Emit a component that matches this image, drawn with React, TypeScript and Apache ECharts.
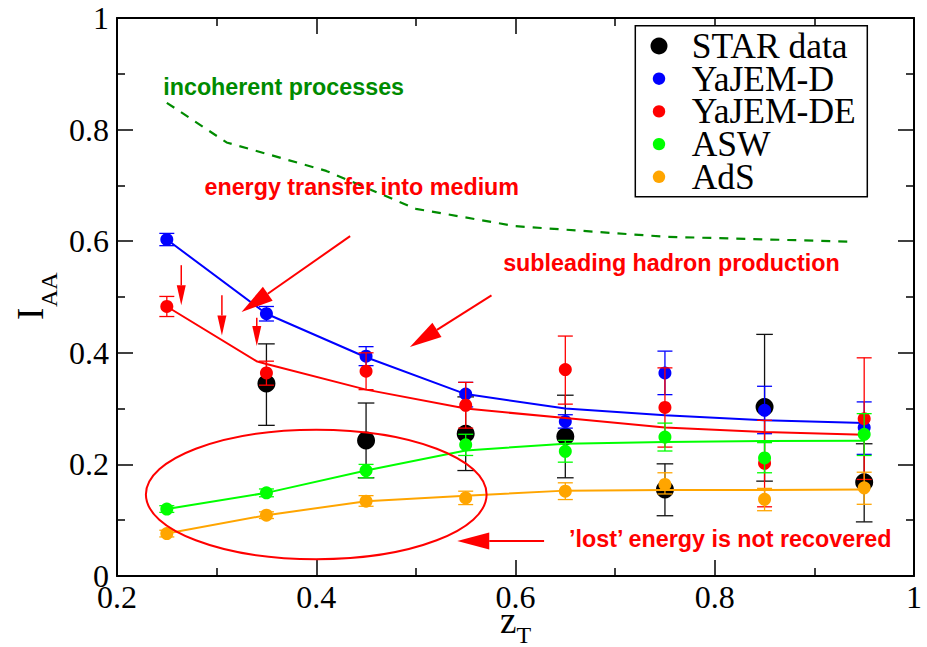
import React, { useEffect, useRef } from 'react';
import * as echarts from 'echarts';

// ---------- data ----------
const zT = [0.25, 0.35, 0.45, 0.55, 0.65, 0.75, 0.85, 0.95];

const starZ = [0.35, 0.45, 0.55, 0.65, 0.75, 0.85, 0.95];
const starI = [0.345, 0.243, 0.255, 0.250, 0.155, 0.303, 0.168];
const starLo = [0.270, 0.176, 0.189, 0.176, 0.108, 0.170, 0.097];
const starHi = [0.416, 0.310, 0.321, 0.324, 0.201, 0.433, 0.237];

const yajemDI = [0.603, 0.470, 0.394, 0.326, 0.277, 0.364, 0.297, 0.266];
const yajemDLo = [0.592, 0.457, 0.377, 0.303, 0.265, 0.325, 0.255, 0.218];
const yajemDHi = [0.614, 0.483, 0.411, 0.347, 0.289, 0.403, 0.340, 0.312];
const yajemDCurve = [0.603, 0.470, 0.392, 0.326, 0.300, 0.288, 0.279, 0.274];

const yajemDEI = [0.483, 0.364, 0.367, 0.306, 0.370, 0.302, 0.202, 0.282];
const yajemDELo = [0.465, 0.342, 0.334, 0.265, 0.308, 0.231, 0.124, 0.173];
const yajemDEHi = [0.501, 0.385, 0.400, 0.347, 0.430, 0.373, 0.279, 0.391];
const yajemDECurveZ = [0.25, 0.34, 0.35, 0.45, 0.55, 0.65, 0.75, 0.85, 0.95];
const yajemDECurve = [0.483, 0.385, 0.380, 0.334, 0.300, 0.283, 0.266, 0.258, 0.253];

const aswI = [0.120, 0.149, 0.189, 0.235, 0.2235, 0.249, 0.2115, 0.254];
const aswLo = [0.114, 0.142, 0.176, 0.216, 0.204, 0.224, 0.185, 0.216];
const aswHi = [0.126, 0.156, 0.200, 0.254, 0.243, 0.274, 0.239, 0.291];
const aswCurve = [0.120, 0.149, 0.189, 0.225, 0.237, 0.240, 0.242, 0.2425];

const adsI = [0.076, 0.109, 0.134, 0.140, 0.152, 0.164, 0.1375, 0.158];
const adsLo = [0.070, 0.103, 0.125, 0.128, 0.137, 0.147, 0.117, 0.1285];
const adsHi = [0.082, 0.115, 0.144, 0.152, 0.167, 0.185, 0.157, 0.186];
const adsCurve = [0.076, 0.109, 0.134, 0.144, 0.153, 0.154, 0.154, 0.155];

const incohZ = [0.25, 0.31, 0.41, 0.50, 0.60, 0.75, 0.94];
const incohI = [0.848, 0.777, 0.726, 0.658, 0.627, 0.608, 0.599];

const legendNames = ['STAR data', 'YaJEM-D', 'YaJEM-DE', 'ASW', 'AdS'];
const legendColors = ['#000000', '#0000ff', '#ff0000', '#00ff00', '#ffa500'];

// annotations (data coordinates)
const notes = [
  { text: 'incoherent processes', at: [0.2464, 0.876], color: '#008b00' },
  { text: 'energy transfer into medium', at: [0.2878, 0.698], color: '#ff0000' },
  { text: 'subleading hadron production', at: [0.5876, 0.561], color: '#ff0000' },
  { text: '\u2019lost\u2019 energy is not recovered', at: [0.6537, 0.0663], color: '#ff0000' },
];
const bigArrows = [
  { tail: [0.434, 0.609], tip: [0.325, 0.473] },
  { tail: [0.5759, 0.503], tip: [0.494, 0.4105] },
  { tail: [0.6287, 0.0627], tip: [0.5415, 0.0627] },
];
const smallArrows = [
  { tail: [0.2645, 0.557], tip: [0.2645, 0.485] },
  { tail: [0.3053, 0.503], tip: [0.3053, 0.431] },
  { tail: [0.3403, 0.463], tip: [0.3403, 0.412] },
];
const ellipseC = [0.4, 0.146];
const ellipseR = [0.171, 0.116];

const SERIF = '"Liberation Serif", "Times New Roman", serif';
const SANS = '"Liberation Sans", Arial, sans-serif';

function errSeries(name: string, xs: number[], lo: number[], hi: number[], color: string, cap: number, lw: number, z: number) {
  return {
    type: 'custom',
    name,
    silent: true,
    z,
    data: xs.map((x, i) => [x, lo[i], hi[i]]),
    encode: { x: 0, y: [1, 2] },
    renderItem: (_p: any, api: any) => {
      const x = api.value(0);
      const a = api.coord([x, api.value(1)]);
      const b = api.coord([x, api.value(2)]);
      const st = { stroke: color, lineWidth: lw };
      return {
        type: 'group',
        children: [
          { type: 'line', shape: { x1: a[0], y1: a[1], x2: b[0], y2: b[1] }, style: st },
          { type: 'line', shape: { x1: a[0] - cap, y1: a[1], x2: a[0] + cap, y2: a[1] }, style: st },
          { type: 'line', shape: { x1: b[0] - cap, y1: b[1], x2: b[0] + cap, y2: b[1] }, style: st },
        ],
      };
    },
  };
}

function lineSeries(name: string, xs: number[], ys: number[], color: string, z: number) {
  return {
    type: 'line',
    name,
    silent: true,
    z,
    showSymbol: false,
    symbol: 'none',
    data: xs.map((x, i) => [x, ys[i]]),
    lineStyle: { color, width: 2 },
  };
}

function scatterSeries(name: string, xs: number[], ys: number[], color: string, size: number, z: number) {
  return {
    type: 'scatter',
    name,
    silent: true,
    z,
    symbol: 'circle',
    symbolSize: size,
    itemStyle: { color, opacity: 1 },
    data: xs.map((x, i) => [x, ys[i]]),
  };
}

const axisCommon = {
  type: 'value',
  axisLine: { show: true, onZero: false, lineStyle: { color: '#000', width: 2 } },
  axisTick: { show: true, inside: true, length: 16, lineStyle: { color: '#000', width: 1.5 } },
  minorTick: { show: true, splitNumber: 2, length: 8, lineStyle: { color: '#000', width: 1.5 } },
  splitLine: { show: false },
  minorSplitLine: { show: false },
};

export default function App() {
  const ref = useRef<HTMLDivElement>(null);
  useEffect(() => {
    if (!ref.current) return;
    const chart = echarts.init(ref.current, undefined, { renderer: 'svg' });
    chart.setOption({
      animation: false,
      backgroundColor: '#fff',
      grid: { left: 117, top: 18, width: 797, height: 558, containLabel: false },
      xAxis: [
        {
          ...axisCommon,
          position: 'bottom',
          min: 0.2, max: 1, interval: 0.2,
          axisLabel: { show: true, margin: 10.3, lineHeight: 22, fontFamily: SERIF, fontSize: 32, color: '#000', showMinLabel: true, showMaxLabel: true },
        },
        {
          ...axisCommon,
          position: 'top',
          min: 0.2, max: 1, interval: 0.2,
          axisLabel: { show: false },
        },
      ],
      yAxis: [
        {
          ...axisCommon,
          position: 'left',
          min: 0, max: 1, interval: 0.2,
          axisLabel: { show: true, margin: 8, lineHeight: 20, fontFamily: SERIF, fontSize: 32, color: '#000', showMinLabel: true, showMaxLabel: true },
        },
        {
          ...axisCommon,
          position: 'right',
          min: 0, max: 1, interval: 0.2,
          axisLabel: { show: false },
        },
      ],
      series: [
        {
          type: 'line', name: 'incoherent processes curve', silent: true, z: 1,
          symbol: 'none', showSymbol: false,
          data: incohZ.map((x, i) => [x, incohI[i]]),
          lineStyle: { color: '#008b00', width: 2.2, type: [9, 8] },
        },
        errSeries('STAR err', starZ, starLo, starHi, '#111', 8.3, 1.3, 2),
        scatterSeries('STAR data', starZ, starI, '#000', 18, 3),
        lineSeries('YaJEM-D curve', zT, yajemDCurve, '#0000ff', 4),
        errSeries('YaJEM-D err', zT, yajemDLo, yajemDHi, '#0000ff', 7.5, 1.3, 4),
        scatterSeries('YaJEM-D', zT, yajemDI, '#0000ff', 13, 5),
        lineSeries('YaJEM-DE curve', yajemDECurveZ, yajemDECurve, '#ff0000', 6),
        errSeries('YaJEM-DE err', zT, yajemDELo, yajemDEHi, '#ff0000', 7.5, 1.3, 6),
        scatterSeries('YaJEM-DE', zT, yajemDEI, '#ff0000', 13, 7),
        lineSeries('ASW curve', zT, aswCurve, '#00ff00', 8),
        errSeries('ASW err', zT, aswLo, aswHi, '#00ff00', 7.5, 1.3, 8),
        scatterSeries('ASW', zT, aswI, '#00ff00', 13, 9),
        lineSeries('AdS curve', zT, adsCurve, '#ffa500', 10),
        errSeries('AdS err', zT, adsLo, adsHi, '#ffa500', 7.5, 1.3, 10),
        scatterSeries('AdS', zT, adsI, '#ffa500', 13, 11),
      ],
    });

    const px = (p: number[]) => chart.convertToPixel({ gridIndex: 0 }, p) as number[];
    const arrow = (tailD: number[], tipD: number[], L: number, W: number, lw: number) => {
      const tail = px(tailD), tip = px(tipD);
      const dx = tip[0] - tail[0], dy = tip[1] - tail[1];
      const len = Math.hypot(dx, dy);
      const ux = dx / len, uy = dy / len;
      const bx = tip[0] - ux * L, by = tip[1] - uy * L;
      const nx = -uy, ny = ux;
      return [
        { type: 'line', silent: true, z: 50, shape: { x1: tail[0], y1: tail[1], x2: bx, y2: by }, style: { stroke: '#ff0000', lineWidth: lw } },
        { type: 'polygon', silent: true, z: 50, shape: { points: [[tip[0], tip[1]], [bx + nx * W, by + ny * W], [bx - nx * W, by - ny * W]] }, style: { fill: '#ff0000' } },
      ];
    };
    const c = px(ellipseC);
    const cr = px([ellipseC[0] + ellipseR[0], ellipseC[1] + ellipseR[1]]);
    const textEl = (text: string, x: number, y: number, size: number, family: string, weight: string, fill: string, lh?: number) => ({
      type: 'text', silent: true, z: 50, x, y,
      style: {
        text, fill, fontSize: size, fontFamily: family, fontWeight: weight,
        lineHeight: lh ?? size,
        align: 'left', verticalAlign: 'middle', textAlign: 'left', textVerticalAlign: 'middle',
      },
    });

    const graphics: any[] = [];
    graphics.push({
      type: 'ellipse', silent: true, z: 50,
      shape: { cx: c[0], cy: c[1], rx: Math.abs(cr[0] - c[0]), ry: Math.abs(cr[1] - c[1]) },
      style: { fill: 'transparent', stroke: '#ff0000', lineWidth: 2 },
    });
    bigArrows.forEach((a) => graphics.push(...arrow(a.tail, a.tip, 32, 8.5, 2)));
    smallArrows.forEach((a) => graphics.push(...arrow(a.tail, a.tip, 20, 4.5, 1.5)));
    notes.forEach((n) => {
      const p = px(n.at);
      graphics.push(textEl(n.text, p[0], p[1], 23.3, SANS, 'bold', n.color, 22));
    });
    // legend
    graphics.push({
      type: 'rect', silent: true, z: 50,
      shape: { x: 635.3, y: 25.7, width: 232, height: 171 },
      style: { fill: '#fff', stroke: '#000', lineWidth: 1.5 },
    });
    legendNames.forEach((name, i) => {
      const y = 46 + i * 32.7;
      graphics.push({
        type: 'circle', silent: true, z: 51,
        shape: { cx: 659, cy: y, r: i === 0 ? 8.5 : 6.2 },
        style: { fill: legendColors[i] },
      });
      graphics.push({ ...textEl(name, 691.7, y, 35.5, SERIF, 'normal', '#000', 30), z: 51 });
    });
    // axis titles
    graphics.push({
      type: 'group', x: 30.5, y: 320, rotation: Math.PI / 2,
      children: [
        textEl('I', 0, 0, 37, SERIF, 'normal', '#000', 26),
        textEl('AA', 13, 18.5, 24, SERIF, 'normal', '#000', 17),
      ],
    });
    graphics.push(textEl('z', 500, 620.5, 37, SERIF, 'normal', '#000', 19));
    graphics.push(textEl('T', 516.5, 634.5, 24, SERIF, 'normal', '#000', 16));

    chart.setOption({ graphic: graphics });
    return () => chart.dispose();
  }, []);
  return <div ref={ref} style={{ position: 'absolute', left: 0, top: 0, width: 927, height: 647 }} />;
}
